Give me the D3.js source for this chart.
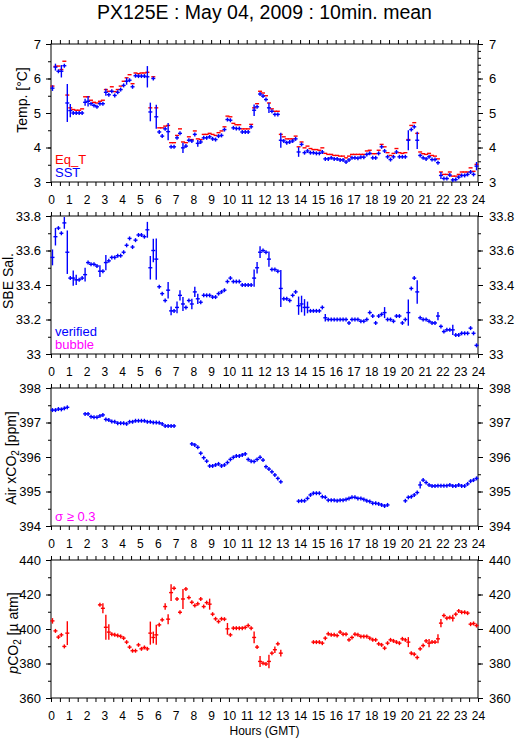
<!DOCTYPE html>
<html>
<head>
<meta charset="utf-8">
<script src="https://cdn.jsdelivr.net/npm/d3@7"></script>
<style>
  body { margin: 0; background: #fff; }
  text { font-family: "Liberation Sans", Arial, Helvetica, sans-serif; }
</style>
</head>
<body>
<script>
// 10 minute means, slot i covers hours [i/6, (i+1)/6]
const sst = [5.72,6.33,6.21,6.21,6.37,5.29,5.07,5.0,5.0,5.0,5.0,5.31,5.34,5.27,5.22,5.18,5.27,5.27,5.6,5.53,
  5.63,5.51,5.6,5.68,5.8,5.92,5.95,5.76,6.08,6.07,6.07,6.07,6.05,5.03,6.0,4.89,4.45,4.33,4.54,4.46,
  4.02,4.02,4.28,4.41,3.99,4.04,4.21,4.19,4.38,4.12,4.16,4.28,4.28,4.31,4.25,4.23,4.33,4.35,4.52,4.81,
  4.79,4.57,4.55,4.55,4.45,4.45,4.45,4.6,5.08,5.18,5.55,5.49,5.39,5.15,5.05,4.96,4.96,4.21,4.19,4.14,
  4.16,4.19,4.25,3.87,4.09,3.85,3.9,3.85,3.85,3.83,3.83,3.87,3.67,3.67,3.7,3.67,3.67,3.64,3.64,3.58,
  3.64,3.7,3.7,3.69,3.72,3.72,3.8,3.83,3.7,3.7,3.83,4.02,3.9,3.73,3.65,3.73,3.87,3.73,3.73,3.73,
  4.21,4.52,4.6,4.21,3.77,3.7,3.67,3.73,3.65,3.65,3.56,3.19,3.1,3.1,3.2,3.06,3.07,3.14,3.19,3.19,
  3.22,3.29,3.22,3.46];
const eqT = [5.78,6.35,6.36,6.26,6.5,5.52,5.15,5.1,5.08,5.08,5.12,5.47,5.47,5.37,5.31,5.29,5.34,5.37,5.68,5.63,
  5.76,5.62,5.68,5.78,5.92,6.02,6.11,5.85,6.16,6.14,6.16,6.16,6.18,5.15,6.05,5.15,4.57,4.57,4.62,4.64,
  4.14,4.14,4.35,4.54,4.16,4.14,4.31,4.23,4.48,4.25,4.23,4.38,4.38,4.41,4.38,4.35,4.43,4.48,4.6,4.91,
  4.89,4.7,4.66,4.66,4.54,4.54,4.54,4.67,5.15,5.27,5.63,5.58,5.5,5.29,5.12,5.05,5.05,4.38,4.31,4.25,
  4.25,4.25,4.33,4.02,4.16,3.99,4.04,3.97,3.94,3.94,3.92,3.99,3.83,3.8,3.8,3.77,3.77,3.75,3.75,3.7,
  3.75,3.8,3.8,3.8,3.8,3.8,3.9,3.92,3.82,3.82,3.92,4.09,4.02,3.85,3.77,3.83,3.97,3.85,3.83,3.85,
  4.23,4.64,4.72,4.41,3.87,3.82,3.8,3.83,3.77,3.75,3.67,3.29,3.22,3.22,3.29,3.17,3.17,3.22,3.29,3.29,
  3.29,3.41,3.31,3.51];
// [slot, half range]
const sstErr = [[0,0.08],[1,0.1],[3,0.18],[5,0.55],[6,0.19],[11,0.1],[12,0.15],[18,0.1],[25,0.1],[32,0.31],
  [33,0.27],[35,0.35],[39,0.25],[44,0.15],[49,0.1],[68,0.17],[73,0.15],[77,0.22],[83,0.14],[120,0.29],
  [123,0.25],[131,0.1],[143,0.12]];

const salinity = [33.56,33.68,33.73,33.70,33.76,33.59,33.44,33.44,33.43,33.43,33.44,33.46,33.53,33.52,33.52,33.51,33.48,33.48,33.53,33.54,
  33.56,33.56,33.57,33.57,33.59,33.63,33.67,33.62,33.66,33.69,33.69,33.68,33.72,33.50,33.60,33.55,33.39,33.35,33.31,33.37,
  33.25,33.25,33.27,33.34,33.29,33.27,33.31,33.29,33.36,33.32,33.30,33.34,33.34,33.34,33.33,33.33,33.35,33.36,33.37,33.42,
  33.44,33.42,33.42,33.42,33.40,33.40,33.40,33.40,33.44,33.50,33.59,33.60,33.59,33.55,33.49,33.49,33.48,33.38,33.32,33.32,
  33.31,33.34,33.36,33.28,33.29,33.27,33.27,33.25,33.25,33.25,33.25,33.27,33.21,33.20,33.20,33.20,33.20,33.20,33.20,33.20,
  33.18,33.20,33.20,33.20,33.19,33.19,33.20,33.24,33.22,33.18,33.22,33.23,33.24,33.20,33.20,33.19,33.22,33.22,33.18,33.20,
  33.24,33.38,33.44,33.36,33.21,33.20,33.20,33.19,33.18,33.18,33.22,33.16,33.13,33.14,33.14,33.14,33.11,33.11,33.12,33.12,
  33.12,33.15,33.12,33.05];
const salErr = [[0,0.046],[1,0.051],[4,0.034],[5,0.126],[7,0.044],[8,0.03],[11,0.04],[16,0.034],[18,0.044],[32,0.046],
  [33,0.068],[34,0.068],[35,0.12],[39,0.048],[40,0.026],[42,0.034],[43,0.03],[44,0.04],[47,0.03],[48,0.03],
  [49,0.03],[68,0.05],[69,0.034],[70,0.034],[73,0.044],[77,0.107],[83,0.053],[84,0.048],[85,0.048],[86,0.034],
  [92,0.022],[112,0.032],[120,0.076],[123,0.068],[130,0.024],[135,0.03]];

const airXco2 = [397.36,397.36,397.39,397.38,397.41,397.44,null,null,null,null,null,397.25,397.25,397.17,397.15,397.15,397.19,397.22,397.09,397.07,
  397.03,397.02,396.98,396.98,396.98,396.96,397.02,397.02,397.05,397.05,397.05,397.05,397.02,397.02,397.0,397.0,396.99,396.96,396.9,396.9,
  396.9,396.9,null,null,null,null,null,396.38,396.35,396.28,396.11,395.98,395.88,395.74,395.74,395.77,395.8,395.74,395.77,395.84,
  395.93,395.99,396.03,396.03,396.06,396.09,395.93,395.88,395.87,395.93,395.99,395.91,395.72,395.65,395.57,395.48,395.38,395.28,null,null,
  null,null,null,394.72,394.73,394.73,394.8,394.9,394.95,394.95,394.95,394.85,394.83,394.75,394.75,394.75,394.73,394.75,394.75,394.77,
  394.8,394.83,394.83,394.8,394.8,394.77,394.73,394.71,394.66,394.66,394.64,394.61,394.58,394.61,null,null,null,null,null,394.73,
  394.83,394.85,394.9,394.97,395.19,395.33,395.26,395.19,395.16,395.16,395.17,395.17,395.17,395.17,395.19,395.16,395.16,395.19,395.16,395.16,
  395.22,395.30,395.33,395.38];
const airErr = [[124,0.1]];

const pco2 = [404.7,398.9,395.3,396.6,389.9,397.6,null,null,null,null,null,null,null,null,null,null,414,412,401,398.2,
  397,396.6,396.2,395.7,394.7,392.4,389.5,387.4,387.4,390.8,388.5,389.3,388.5,397.6,395.1,396.6,402.4,405.3,413,405.7,
  421.1,423.6,417.4,409.7,417.4,423.2,418.2,415.5,413.6,414.6,417.4,413,415.3,414.4,408.6,405.9,404.3,405.9,405.7,400.1,
  396.6,400.5,400.5,400.5,400.5,400.9,402,400.5,395.1,389.5,381.2,380.2,379.7,381.2,386,388,391.4,386,null,null,
  null,null,null,null,null,null,null,null,392.4,392.4,392.4,391.8,394.7,397.2,396.6,396.6,396.2,398.2,397,397,
  393.7,395.1,397,396.6,395.7,395.7,395.7,394.7,393.7,393.7,391.4,390.8,388.9,391.8,393.7,393.1,392.4,391.8,394.3,393.7,
  392.4,386,385.4,383.5,388.5,390.4,393.1,391.8,392.4,392.4,394.3,403.4,407.8,406.3,406.7,406.3,408.6,410.5,409.7,409.7,
  409.2,402.8,403.2,402];
const pco2Err = [[0,1.6],[5,6.9],[17,2.9],[18,7.2],[19,4.5],[33,6.7],[34,3.4],[35,5.8],[38,1.9],[39,2.9],
  [40,4.8],[44,5.8],[53,3.2],[59,3.4],[68,3.4],[70,3.2],[73,3.9],[75,1.9],[77,1.9],[120,2.9],
  [127,2.4],[130,2.6],[131,2.4],[135,1.9]];

const hourTicks = d3.range(0, 24.5, 0.5);
const slotHours = d3.range(144).map((i) => (i + 0.5) / 6);

const width = 515;
const height = 739;
const left = 51;
const right = 478;
const panelH = 138;

const blue = "#0000ff";
const red = "#ff0000";
const magenta = "#ff00ff";

const svg = d3
    .select("body")
    .append("svg")
    .attr("width", width)
    .attr("height", height);

svg.append("rect").attr("width", width).attr("height", height).attr("fill", "#fff");

svg.append("text")
    .attr("x", (left + right) / 2)
    .attr("y", 18.5)
    .attr("text-anchor", "middle")
    .style("font-size", "19.5px")
    .text("PX125E : May 04, 2009 : 10min. mean");

const x = d3.scaleLinear().domain([0, 24]).range([left, right]);

function styleAxis(g) {
    g.select(".domain").remove();
    g.selectAll("text").attr("font-family", null);
    g.selectAll("line").attr("stroke", "#000");
}

// one panel: frame, axes, marks
function drawPanel(p) {
    const top = p.top;
    const bottom = top + panelH;
    const y = d3.scaleLinear().domain(p.domain).range([bottom, top]);
    const g = svg.append("g");

    // x axes, half hour ticks outward
    g.append("g")
        .attr("transform", `translate(0,${top})`)
        .call(d3.axisTop(x).tickValues(hourTicks).tickSize(4).tickFormat(""))
        .call(styleAxis);
    g.append("g")
        .attr("transform", `translate(0,${bottom})`)
        .call(
            d3.axisBottom(x)
                .tickValues(hourTicks)
                .tickSize(4)
                .tickPadding(9)
                .tickFormat((d) => (Number.isInteger(d) ? d : ""))
        )
        .call(styleAxis)
        .selectAll("text")
        .style("font-size", "12px");

    // y axes, minor then major
    const minorL = d3.range(p.domain[0], p.domain[1] + 1e-9, p.minor);
    const minorR = d3.range(p.domain[0], p.domain[1] + 1e-9, p.minorRight || p.minor);
    const major = d3.range(p.domain[0], p.domain[1] + 1e-9, p.major);
    g.append("g")
        .attr("transform", `translate(${left},0)`)
        .call(d3.axisLeft(y).tickValues(minorL).tickSize(3).tickFormat(""))
        .call(styleAxis);
    g.append("g")
        .attr("transform", `translate(${right},0)`)
        .call(d3.axisRight(y).tickValues(minorR).tickSize(3).tickFormat(""))
        .call(styleAxis);
    g.append("g")
        .attr("transform", `translate(${left},0)`)
        .call(d3.axisLeft(y).tickValues(major).tickSize(5).tickPadding(5).tickFormat(p.fmt))
        .call(styleAxis)
        .selectAll("text")
        .style("font-size", "13px");
    g.append("g")
        .attr("transform", `translate(${right},0)`)
        .call(d3.axisRight(y).tickValues(major).tickSize(5).tickPadding(6).tickFormat(p.fmt))
        .call(styleAxis)
        .selectAll("text")
        .style("font-size", "13px");

    g.append("rect")
        .attr("x", left)
        .attr("y", top)
        .attr("width", right - left)
        .attr("height", panelH)
        .attr("fill", "none")
        .attr("stroke", "#000");

    // y label
    const lab = g.append("text")
        .attr("transform", `translate(${p.labelX},${p.labelY}) rotate(-90)`)
        .attr("text-anchor", "middle")
        .style("font-size", "14px");
    p.label(lab);

    // series
    p.series.forEach((s) => {
        const errs = new Map(s.err || []);
        const pts = s.values
            .map((v, i) => ({ h: slotHours[i], v: v, e: errs.get(i) || 0 }))
            .filter((d) => d.v != null);
        const sg = g.append("g").attr("stroke", s.colour).attr("stroke-width", 1.4);
        sg.selectAll(".hbar")
            .data(pts)
            .join("line")
            .attr("x1", (d) => x(d.h) - 2)
            .attr("x2", (d) => x(d.h) + 2)
            .attr("y1", (d) => y(d.v))
            .attr("y2", (d) => y(d.v));
        if (s.cross) {
            sg.selectAll(".vbar")
                .data(pts)
                .join("line")
                .attr("x1", (d) => x(d.h))
                .attr("x2", (d) => x(d.h))
                .attr("y1", (d) => Math.min(y(d.v + d.e), y(d.v) - 2))
                .attr("y2", (d) => Math.max(y(d.v - d.e), y(d.v) + 2));
        }
    });

    // legend text in the lower left corner
    p.legend.forEach((l, i) => {
        g.append("text")
            .attr("x", 55)
            .attr("y", bottom - 5 - (p.legend.length - 1 - i) * 13.5)
            .attr("fill", l.colour)
            .style("font-size", "13px")
            .text(l.text);
    });
}

drawPanel({
    top: 44,
    domain: [3, 7],
    major: 1,
    minor: 0.5,
    minorRight: 0.2,
    fmt: d3.format("d"),
    labelX: 27,
    labelY: 100,
    label: (t) => t.text("Temp. [°C]"),
    series: [
        { values: eqT, colour: red, cross: false },
        { values: sst, err: sstErr, colour: blue, cross: true },
    ],
    legend: [
        { text: "Eq_T", colour: red },
        { text: "SST", colour: blue },
    ],
});

drawPanel({
    top: 216,
    domain: [33, 33.8],
    major: 0.2,
    minor: 0.1,
    fmt: (d) => (Math.abs(d - 33) < 1e-6 ? "33" : d3.format(".1f")(d)),
    labelX: 13,
    labelY: 281,
    label: (t) => t.text("SBE Sal."),
    series: [{ values: salinity, err: salErr, colour: blue, cross: true }],
    legend: [
        { text: "verified", colour: blue },
        { text: "bubble", colour: magenta },
    ],
});

drawPanel({
    top: 388,
    domain: [394, 398],
    major: 1,
    minor: 0.5,
    fmt: d3.format("d"),
    labelX: 16,
    labelY: 458,
    label: (t) => {
        t.append("tspan").text("Air xCO");
        t.append("tspan").attr("dy", 3).style("font-size", "10px").text("2");
        t.append("tspan").attr("dy", -3).text(" [ppm]");
    },
    series: [{ values: airXco2, err: airErr, colour: blue, cross: true }],
    legend: [{ text: "σ ≥ 0.3", colour: magenta }],
});

drawPanel({
    top: 560,
    domain: [360, 440],
    major: 20,
    minor: 10,
    fmt: d3.format("d"),
    labelX: 18,
    labelY: 633,
    label: (t) => {
        t.append("tspan").style("font-style", "italic").text("p");
        t.append("tspan").text("CO");
        t.append("tspan").attr("dy", 3).style("font-size", "10px").text("2");
        t.append("tspan").attr("dy", -3).text(" [µ atm]");
    },
    series: [{ values: pco2, err: pco2Err, colour: red, cross: true }],
    legend: [],
});

svg.append("text")
    .attr("x", (left + right) / 2)
    .attr("y", 735)
    .attr("text-anchor", "middle")
    .style("font-size", "12px")
    .text("Hours (GMT)");
</script>
</body>
</html>
